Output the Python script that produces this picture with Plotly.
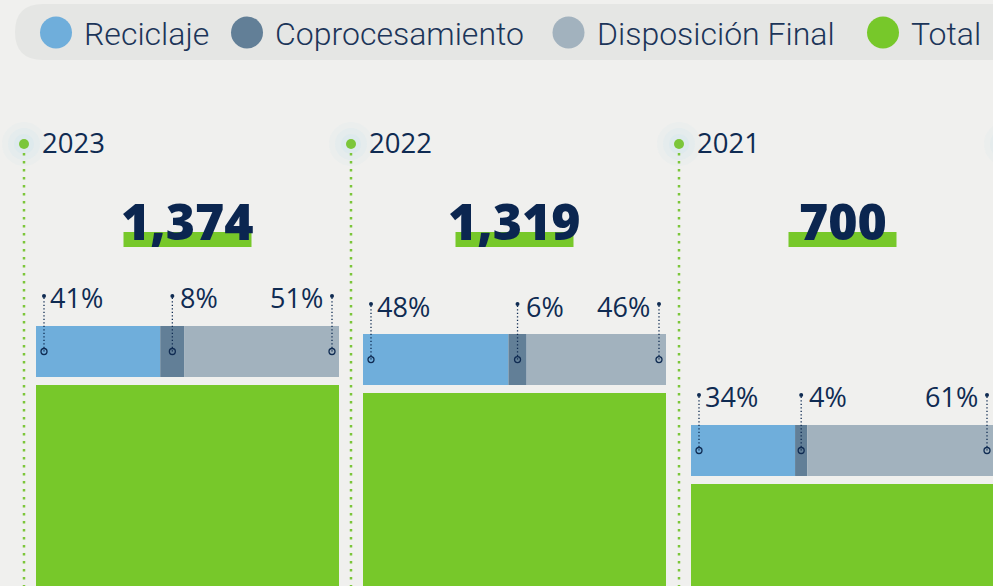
import plotly.graph_objects as go

# === Data ===
YEARS = ["2023", "2022", "2021"]
TOTALS = [1374, 1319, 700]
RECICLAJE = [41, 48, 34]
COPROCESAMIENTO = [8, 6, 4]
DISPOSICION_FINAL = [51, 46, 61]

SERIES = ["Reciclaje", "Coprocesamiento", "Disposición Final", "Total"]

# === Style ===
COLORS = {
    "Reciclaje": "#6faedb",
    "Coprocesamiento": "#627f97",
    "Disposición Final": "#a2b2be",
    "Total": "#77c82a",
}
NAVY = "#0f2b52"
BG = "#f0f0ee"
PILL = "#e5e6e4"
GREEN_DOT = "#7cc63a"

W, H = 993, 586
PANEL_LEFT = [36, 363, 691]
PANEL_W = 303
K = 0.14688          # pixels per unit of total
Y0 = 5.4             # value at the bottom edge
BAR_OFFSET = 33.5 / K   # stacked bar centre above the total bar
BAR_THICK = 51 / K
LABEL_OFFSET = 53.5 / K
LEAD_TOP = 55.5 / K

FONT_NUM = "Open Sans, sans-serif"
FONT_LEG = "Roboto, sans-serif"


def px(x):
    return x / W


def py(y):
    return 1 - y / H


fig = go.Figure()
shapes = []
annotations = []

# Legend pill
x0, x1, y0, y1, r = 15, 1020, 4, 60, 28
path = (
    f"M {px(x0 + r)},{py(y0)} L {px(x1 - r)},{py(y0)} "
    f"Q {px(x1)},{py(y0)} {px(x1)},{py(y0 + r)} L {px(x1)},{py(y1 - r)} "
    f"Q {px(x1)},{py(y1)} {px(x1 - r)},{py(y1)} L {px(x0 + r)},{py(y1)} "
    f"Q {px(x0)},{py(y1)} {px(x0)},{py(y1 - r)} L {px(x0)},{py(y0 + r)} "
    f"Q {px(x0)},{py(y0)} {px(x0 + r)},{py(y0)} Z"
)
shapes.append(dict(type="path", xref="paper", yref="paper", path=path,
                   fillcolor=PILL, line_width=0, layer="below"))

LEG_CX = [56, 247, 568.5, 883]
for name, cx in zip(SERIES, LEG_CX):
    shapes.append(dict(type="circle", xref="paper", yref="paper",
                       x0=px(cx - 16), x1=px(cx + 16), y0=py(48.5), y1=py(16.5),
                       fillcolor=COLORS[name], line_width=0))
    annotations.append(dict(x=px(cx + 26), y=py(34), xref="paper", yref="paper",
                            text=name, showarrow=False, xanchor="left", yanchor="middle",
                            font=dict(family=FONT_LEG, size=32, color="#1c3559", weight=300)))

# Timeline dots, glows, dotted lines, year labels, totals
UNDERLINE_W = [128, 118, 108]
for i, (year, total) in enumerate(zip(YEARS, TOTALS)):
    left = PANEL_LEFT[i]
    dx = left - 12
    for rad, alpha in [(22, 0.15), (16, 0.2), (10, 0.25)]:
        shapes.append(dict(type="circle", xref="paper", yref="paper",
                           x0=px(dx - rad), x1=px(dx + rad), y0=py(144 + rad), y1=py(144 - rad),
                           fillcolor=f"rgba(205,228,238,{alpha})", line_width=0, layer="below"))
    shapes.append(dict(type="line", xref="paper", yref="paper",
                       x0=px(dx), x1=px(dx), y0=py(153), y1=py(H + 5),
                       line=dict(color=GREEN_DOT, width=2.5, dash="2.5px,5.5px")))
    shapes.append(dict(type="circle", xref="paper", yref="paper",
                       x0=px(dx - 5), x1=px(dx + 5), y0=py(149), y1=py(139),
                       fillcolor=GREEN_DOT, line_width=0))
    annotations.append(dict(x=px(left + 4), y=py(143), xref="paper", yref="paper",
                            text=year, showarrow=False, xanchor="left", yanchor="middle",
                            font=dict(family=FONT_NUM, size=27.5, color=NAVY, weight=500)))
    cx = left + PANEL_W / 2
    uw = UNDERLINE_W[i]
    shapes.append(dict(type="rect", xref="paper", yref="paper",
                       x0=px(cx - uw / 2), x1=px(cx + uw / 2), y0=py(247), y1=py(232),
                       fillcolor=COLORS["Total"], line_width=0))
    annotations.append(dict(x=px(cx), y=py(221), xref="paper", yref="paper",
                            text=f"{total:,}", showarrow=False, xanchor="center", yanchor="middle",
                            font=dict(family=FONT_NUM, size=50, color="#0b2650", weight=800)))

# glow of the next (cropped) timeline dot
for rad, alpha in [(22, 0.15), (16, 0.2)]:
    shapes.append(dict(type="circle", xref="paper", yref="paper",
                       x0=px(1006 - rad), x1=px(1006 + rad), y0=py(144 + rad), y1=py(144 - rad),
                       fillcolor=f"rgba(205,228,238,{alpha})", line_width=0, layer="below"))

# Bars
for i, total in enumerate(TOTALS):
    xa = "x" if i == 0 else f"x{i + 1}"
    fig.add_trace(go.Bar(
        x=[50], y=[total], width=[100], orientation="v",
        marker=dict(color=COLORS["Total"], line_width=0),
        xaxis=xa, yaxis="y", name="Total", showlegend=False, hoverinfo="skip",
    ))
    pcts = [RECICLAJE[i], COPROCESAMIENTO[i], DISPOSICION_FINAL[i]]
    s = sum(pcts)
    widths = [p / s * 100 for p in pcts]
    yc = total + BAR_OFFSET
    cum = 0
    for name, w in zip(SERIES[:3], widths):
        fig.add_trace(go.Bar(
            x=[w], y=[yc], base=[cum], width=[BAR_THICK], orientation="h",
            marker=dict(color=COLORS[name], line_width=0),
            xaxis=xa, yaxis="y", name=name, showlegend=False, hoverinfo="skip",
        ))
        cum += w

    # leader lines and percentage labels
    leads = [8 / PANEL_W * 100, widths[0] + widths[1] / 2, 100 - 7 / PANEL_W * 100]
    for j, (lx, p) in enumerate(zip(leads, pcts)):
        fig.add_trace(go.Scatter(
            x=[lx, lx], y=[yc, yc + LEAD_TOP], mode="lines",
            line=dict(color=NAVY, width=1.3, dash="1.3px,2.2px"),
            xaxis=xa, yaxis="y", showlegend=False, hoverinfo="skip",
        ))
        fig.add_trace(go.Scatter(
            x=[lx], y=[yc + LEAD_TOP], mode="markers",
            marker=dict(color=NAVY, size=4),
            xaxis=xa, yaxis="y", showlegend=False, hoverinfo="skip",
        ))
        fig.add_trace(go.Scatter(
            x=[lx], y=[yc], mode="markers",
            marker=dict(color=NAVY, size=6, symbol="circle-open", line=dict(width=1.3)),
            xaxis=xa, yaxis="y", showlegend=False, hoverinfo="skip",
        ))
        annotations.append(dict(
            x=lx, y=yc + LABEL_OFFSET, xref=xa, yref="y",
            text=f"{p}%", showarrow=False,
            xanchor="right" if j == 2 else "left", yanchor="middle",
            xshift=-7 if j == 2 else (4 if j == 0 else 6),
            font=dict(family=FONT_NUM, size=27, color=NAVY, weight=500),
        ))

axis_common = dict(visible=False, fixedrange=True)
layout_axes = {}
for i, left in enumerate(PANEL_LEFT):
    key = "xaxis" if i == 0 else f"xaxis{i + 1}"
    right = min(left + PANEL_W, W)
    layout_axes[key] = dict(
        domain=[px(left), px(right)],
        range=[0, (right - left) / PANEL_W * 100],
        anchor="y", **axis_common,
    )

fig.update_layout(
    width=W, height=H,
    margin=dict(l=0, r=0, t=0, b=0),
    paper_bgcolor=BG, plot_bgcolor="rgba(0,0,0,0)",
    barmode="overlay",
    yaxis=dict(domain=[0, 1], range=[Y0, Y0 + H / K], **axis_common),
    shapes=shapes,
    annotations=annotations,
    showlegend=False,
    **layout_axes,
)

fig.write_html("out.html", config={"displayModeBar": False},
               post_script="document.body.style.margin='0';")
